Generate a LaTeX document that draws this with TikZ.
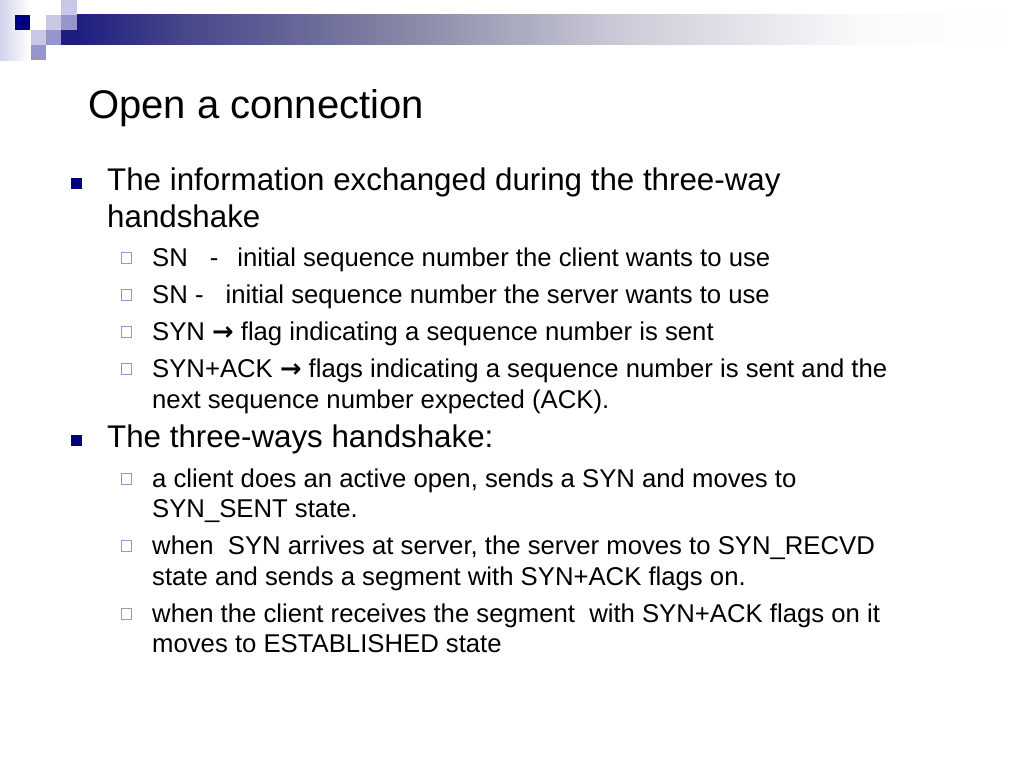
\documentclass[tikz,border=0pt]{standalone}
\usepackage{fontspec}
\setmainfont{Liberation Sans}
\newfontfamily\arrowfont{DejaVu Sans}
\definecolor{navy}{RGB}{0,0,128}
\definecolor{barnavy}{RGB}{30,30,128}
\definecolor{lightlav}{RGB}{200,200,230}
\definecolor{medlav}{RGB}{150,150,204}
\definecolor{boxlav}{RGB}{150,150,200}
\begin{document}
\begin{tikzpicture}[x=1pt,y=-1pt,
  title/.style={anchor=base west,inner sep=0pt,font=\fontsize{40}{48}\selectfont},
  lvlone/.style={anchor=base west,inner sep=0pt,font=\fontsize{31.3}{37}\selectfont},
  lvltwo/.style={anchor=base west,inner sep=0pt,font=\fontsize{25.7}{31}\selectfont},
  bulone/.style={fill=navy,draw=none,minimum size=11pt,inner sep=0pt},
  bultwo/.style={fill=white,draw=boxlav,line width=1.1pt,minimum size=10.5pt,inner sep=0pt}]
\useasboundingbox (0,0) rectangle (1024,768);
\fill[white] (0,0) rectangle (1024,768);
% left vertical soft strip
\shade[left color=lightlav!80,right color=white] (0,0) rectangle (30,60);
% gradient bar
\fill[barnavy] (61,15) rectangle (77,45);
\shade[left color=barnavy,right color={rgb,255:red,69;green,69;blue,138}] (77,15) rectangle (180,45);
\shade[left color={rgb,255:red,69;green,69;blue,138},right color={rgb,255:red,133;green,133;blue,165}] (179.5,15) rectangle (400,45);
\shade[left color={rgb,255:red,133;green,133;blue,165},right color={rgb,255:red,203;green,203;blue,216}] (399.5,15) rectangle (620,45);
\shade[left color={rgb,255:red,203;green,203;blue,216},right color={rgb,255:red,250;green,250;blue,252}] (619.5,15) rectangle (860,45);
\shade[left color={rgb,255:red,250;green,250;blue,252},right color=white] (859.5,15) rectangle (1024,45);
% squares
\fill[navy] (15,15) rectangle (30,30);
\fill[lightlav] (46,15) rectangle (61,30);
\fill[lightlav] (61,0) rectangle (77,15);
\fill[medlav] (61,15) rectangle (77,30);
\fill[lightlav] (31,30) rectangle (46,45);
\fill[medlav] (46,30) rectangle (61,45);
\fill[medlav] (31,45) rectangle (46,60);
% title
\node[title] (t) at (88,118) {Open a connection};
% first level-1 item
\node[bulone] (b1) at (76,183) {};
\node[lvlone] (l1a) at (107,190) {The information exchanged during the three-way};
\node[lvlone] (l1b) at (107,227) {handshake};
\node[bultwo] (s1) at (126.5,258) {};
\node[lvltwo] (i1) at (152,266) {SN\hspace{22pt}-\hspace{19pt}initial sequence number the client wants to use};
\node[bultwo] (s2) at (126.5,295) {};
\node[lvltwo] (i2) at (152,303) {SN -\hspace{22pt}initial sequence number the server wants to use};
\node[bultwo] (s3) at (126.5,332) {};
\node[lvltwo] (i3) at (152,340) {SYN {\arrowfont\bfseries→} flag indicating a sequence number is sent};
\node[bultwo] (s4) at (126.5,369) {};
\node[lvltwo] (i4a) at (152,377) {SYN+ACK {\arrowfont\bfseries→} flags indicating a sequence number is sent and the};
\node[lvltwo] (i4b) at (152,408) {next sequence number expected (ACK).};
% second level-1 item
\node[bulone] (b2) at (76,440) {};
\node[lvlone] (l2) at (107,447) {The three-ways handshake:};
\node[bultwo] (s5) at (126.5,479) {};
\node[lvltwo] (j1a) at (152,487) {a client does an active open, sends a SYN and moves to};
\node[lvltwo] (j1b) at (152,517) {SYN\_SENT state.};
\node[bultwo] (s6) at (126.5,546) {};
\node[lvltwo] (j2a) at (152,554) {when\ \ SYN arrives at server, the server moves to SYN\_RECVD};
\node[lvltwo] (j2b) at (152,585) {state and sends a segment with SYN+ACK flags on.};
\node[bultwo] (s7) at (126.5,614) {};
\node[lvltwo] (j3a) at (152,622) {when the client receives the segment\ \ with SYN+ACK flags on it};
\node[lvltwo] (j3b) at (152,652) {moves to ESTABLISHED state};
\end{tikzpicture}
\end{document}
